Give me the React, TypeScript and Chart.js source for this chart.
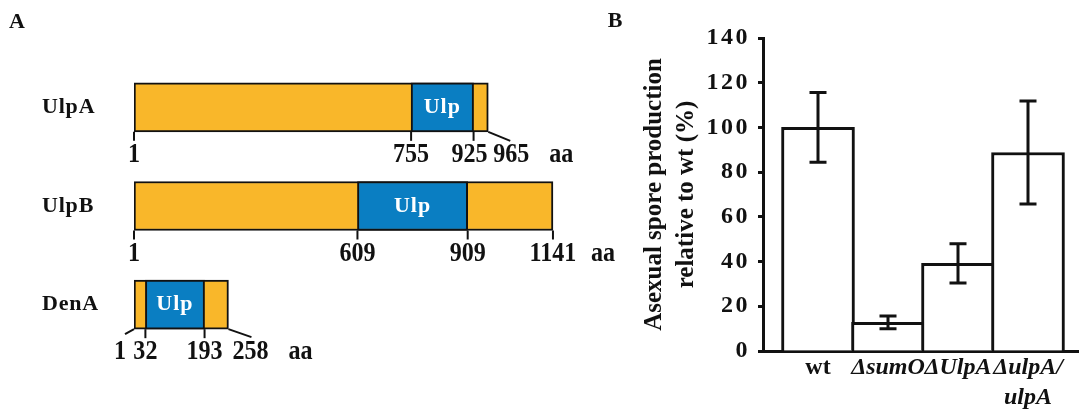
import React, { useEffect, useRef } from 'react';
import { Chart, registerables } from 'chart.js';

Chart.register(...registerables);

const FONT = "'Liberation Serif', 'Times New Roman', serif";
const INK = '#111111';
const ORANGE = '#F9B72A';
const BLUE = '#0A7EC2';

// ---------- Panel A data ----------
const proteins = ['UlpA', 'UlpB', 'DenA'];
const proteinLength = [965, 1141, 258];
const ulpStart = [755, 609, 32];
const ulpEnd = [925, 909, 193];
const domainLabel = 'Ulp';
const unitLabel = 'aa';

// ---------- Panel B data ----------
const strains: (string | string[])[] = ['wt', '\u0394sumO', '\u0394UlpA', ['\u0394ulpA/', 'ulpA']];
const sporeProduction = [100, 12.8, 39.2, 88.8];
const sporeError = [15.6, 2.8, 8.8, 23];
const yTitle = ['Asexual spore production', 'relative to wt (%)'];

// layout of the residue-number labels under the protein bars (px)
const TICK_LAYOUT: Record<string, { dx: number; dy: number; text: number }> = {
  'UlpA:925': { dx: 0, dy: 9, text: -4 },
  'UlpA:965': { dx: 22, dy: 9, text: 23 },
  'DenA:1': { dx: -9, dy: 5, text: -14 },
  'DenA:258': { dx: 23, dy: 8, text: 22 },
};

function drawCondensed(ctx: CanvasRenderingContext2D, text: string, cx: number, baseline: number, size: number, sx: number) {
  ctx.save();
  ctx.font = `bold ${size}px ${FONT}`;
  ctx.textAlign = 'center';
  ctx.textBaseline = 'alphabetic';
  ctx.translate(cx, baseline);
  ctx.scale(sx, 1);
  ctx.fillText(text, 0, 0);
  ctx.restore();
}

const domainPlugin = {
  id: 'domainDecor',
  beforeDraw(chart: any) {
    chart.ctx.letterSpacing = '0.8px';
  },
  afterDatasetsDraw(chart: any) {
    const ctx: CanvasRenderingContext2D = chart.ctx;
    const xs = chart.scales.x;
    const fullMeta = chart.getDatasetMeta(1);
    const domMeta = chart.getDatasetMeta(0);
    ctx.save();
    ctx.letterSpacing = '0px';
    ctx.fillStyle = INK;
    ctx.strokeStyle = INK;
    ctx.lineWidth = 2;
    proteins.forEach((name, i) => {
      const el = fullMeta.data[i].getProps(['y', 'height'], true);
      const bottom = el.y + el.height / 2;
      const positions = [1, ulpStart[i], ulpEnd[i], proteinLength[i]];
      let lastCx = 0;
      positions.forEach((pos) => {
        const px = xs.getPixelForValue(pos);
        const lay = TICK_LAYOUT[`${name}:${pos}`] || { dx: 0, dy: 9, text: 0 };
        ctx.beginPath();
        ctx.moveTo(px, bottom);
        ctx.lineTo(px + lay.dx, bottom + lay.dy);
        ctx.stroke();
        lastCx = px + lay.text;
        drawCondensed(ctx, String(pos), lastCx, bottom + 30, 28, 0.86);
      });
      drawCondensed(ctx, unitLabel, lastCx + 50, bottom + 30, 28, 0.86);

      // domain label
      const d = domMeta.data[i].getProps(['x', 'y', 'base'], true);
      ctx.save();
      ctx.letterSpacing = '1px';
      ctx.fillStyle = '#ffffff';
      ctx.font = `bold 22px ${FONT}`;
      ctx.textAlign = 'center';
      ctx.textBaseline = 'middle';
      ctx.fillText(domainLabel, (d.x + d.base) / 2, d.y);
      ctx.restore();
    });
    ctx.restore();
  },
  afterDraw(chart: any) {
    const ctx: CanvasRenderingContext2D = chart.ctx;
    ctx.save();
    ctx.letterSpacing = '0px';
    ctx.fillStyle = INK;
    ctx.font = `bold 22px ${FONT}`;
    ctx.textAlign = 'center';
    ctx.textBaseline = 'middle';
    ctx.fillText('A', 17, 22);
    ctx.restore();
  },
};

const errorBarPlugin = {
  id: 'errorBars',
  afterDatasetsDraw(chart: any) {
    const ctx: CanvasRenderingContext2D = chart.ctx;
    const ys = chart.scales.y;
    const meta = chart.getDatasetMeta(0);
    ctx.save();
    ctx.strokeStyle = INK;
    ctx.lineWidth = 3;
    meta.data.forEach((bar: any, i: number) => {
      const x = bar.x;
      const yTop = ys.getPixelForValue(sporeProduction[i] + sporeError[i]);
      const yBot = ys.getPixelForValue(sporeProduction[i] - sporeError[i]);
      ctx.beginPath();
      ctx.moveTo(x, yTop);
      ctx.lineTo(x, yBot);
      ctx.moveTo(x - 8.5, yTop);
      ctx.lineTo(x + 8.5, yTop);
      ctx.moveTo(x - 8.5, yBot);
      ctx.lineTo(x + 8.5, yBot);
      ctx.stroke();
    });
    ctx.restore();
    // letter-spaced y tick labels (drawn after datasets, z = 1)
    ctx.letterSpacing = '2.5px';
  },
  afterDraw(chart: any) {
    const ctx: CanvasRenderingContext2D = chart.ctx;
    ctx.letterSpacing = '0px';
    ctx.save();
    ctx.fillStyle = INK;
    ctx.font = `bold 22px ${FONT}`;
    ctx.textAlign = 'center';
    ctx.textBaseline = 'middle';
    ctx.fillText('B', 15, 21);
    ctx.restore();
  },
};

export default function App() {
  const refA = useRef<HTMLCanvasElement>(null);
  const refB = useRef<HTMLCanvasElement>(null);

  useEffect(() => {
    const chartA = new Chart(refA.current as HTMLCanvasElement, {
      type: 'bar',
      data: {
        labels: proteins,
        datasets: [
          {
            label: 'Ulp domain',
            data: proteins.map((_, i) => [ulpStart[i], ulpEnd[i]]),
            backgroundColor: BLUE,
            borderColor: INK,
            borderWidth: 2,
            borderSkipped: false,
            barThickness: 49,
            grouped: false,
          } as any,
          {
            label: 'Protein',
            data: proteins.map((_, i) => [1, proteinLength[i]]),
            backgroundColor: ORANGE,
            borderColor: INK,
            borderWidth: 2,
            borderSkipped: false,
            barThickness: 49,
            grouped: false,
          } as any,
        ],
      },
      options: {
        indexAxis: 'y',
        responsive: false,
        animation: false,
        layout: { padding: { left: 42, top: 58, bottom: 58, right: 20 } },
        plugins: { legend: { display: false }, tooltip: { enabled: false } },
        scales: {
          x: { type: 'linear', display: false, min: 1, max: 1269 },
          y: {
            type: 'category',
            grid: { display: false },
            border: { display: false },
            ticks: {
              crossAlign: 'far',
              color: INK,
              padding: 0,
              font: { family: FONT, size: 22, weight: 'bold' },
            },
            afterFit: (s: any) => {
              s.width = 92;
            },
          },
        },
      } as any,
      plugins: [domainPlugin],
    });

    const chartB = new Chart(refB.current as HTMLCanvasElement, {
      type: 'bar',
      data: {
        datasets: [
          {
            label: 'Asexual spore production',
            data: sporeProduction.map((v, i) => ({ x: i, y: v })),
            backgroundColor: '#ffffff',
            borderColor: INK,
            borderWidth: 3,
            barThickness: 73,
          } as any,
        ],
      },
      options: {
        responsive: false,
        animation: false,
        layout: { padding: { top: 38, right: 2, left: 0, bottom: 0 } },
        plugins: { legend: { display: false }, tooltip: { enabled: false } },
        scales: {
          x: {
            type: 'linear',
            offset: false,
            min: -55 / 70,
            max: 260 / 70,
            grid: { display: false, drawTicks: false },
            border: { display: true, color: INK, width: 3 },
            afterBuildTicks: (s: any) => {
              s.ticks = strains.map((_, i) => ({ value: i }));
            },
            ticks: {
              autoSkip: false,
              maxRotation: 0,
              minRotation: 0,
              padding: 2,
              color: INK,
              font: (c: any) => ({
                family: FONT,
                size: 24,
                weight: 'bold',
                style: c.index === 0 ? 'normal' : 'italic',
                lineHeight: 1.25,
              }),
              callback: (_v: any, i: number) => strains[i],
            },
            afterFit: (s: any) => {
              s.height = 61;
            },
          },
          y: {
            min: 0,
            max: 140,
            ticks: {
              stepSize: 20,
              padding: 8,
              color: INK,
              z: 1,
              font: { family: FONT, size: 24, weight: 'bold' },
            },
            grid: {
              drawOnChartArea: false,
              drawTicks: true,
              tickLength: 5,
              tickWidth: 3,
              tickColor: INK,
              color: INK,
            },
            border: { display: true, color: INK, width: 3 },
            title: {
              display: true,
              text: yTitle,
              color: INK,
              font: { family: FONT, size: 25, weight: 'bold', lineHeight: 1.28 },
              padding: { top: 39, bottom: 0 },
            },
            afterFit: (s: any) => {
              s.width = 163;
            },
          },
        },
      } as any,
      plugins: [errorBarPlugin],
    });

    return () => {
      chartA.destroy();
      chartB.destroy();
    };
  }, []);

  return (
    <div
      style={{
        position: 'absolute',
        left: 0,
        top: 0,
        width: 1080,
        height: 412,
        overflow: 'hidden',
        background: '#ffffff',
      }}
    >
      <canvas
        ref={refA}
        width={620}
        height={412}
        style={{ position: 'absolute', left: 0, top: 0, width: 620, height: 412 }}
      />
      <canvas
        ref={refB}
        width={480}
        height={412}
        style={{ position: 'absolute', left: 600, top: 0, width: 480, height: 412 }}
      />
    </div>
  );
}
